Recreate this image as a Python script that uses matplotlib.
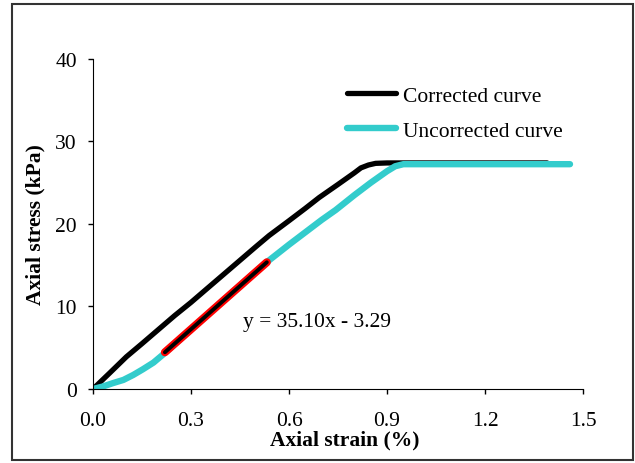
import matplotlib
matplotlib.use("Agg")
import matplotlib.pyplot as plt
from matplotlib.patches import Rectangle

# corrected curve (black)
corr_strain = [0.00, 0.05, 0.102, 0.15, 0.20, 0.25, 0.30, 0.347, 0.40, 0.45,
               0.50, 0.539, 0.60, 0.65, 0.692, 0.75, 0.80, 0.82, 0.843, 0.865,
               0.90, 0.95, 1.05, 1.15, 1.25, 1.39]
corr_stress = [0.0, 1.9, 3.9, 5.5, 7.2, 8.9, 10.5, 12.1, 13.9, 15.6,
               17.3, 18.6, 20.4, 21.9, 23.2, 24.8, 26.2, 26.8, 27.15, 27.35,
               27.4, 27.4, 27.4, 27.4, 27.4, 27.4]

# uncorrected curve (cyan)
unc_strain = [0.00, 0.03, 0.06, 0.093, 0.123, 0.153, 0.185, 0.215, 0.30, 0.40,
              0.50, 0.539, 0.60, 0.65, 0.70, 0.743, 0.80, 0.85, 0.90, 0.925,
              0.95, 0.99, 1.05, 1.15, 1.25, 1.35, 1.46]
unc_stress = [0.0, 0.3, 0.7, 1.1, 1.7, 2.4, 3.2, 4.2, 7.2, 10.8,
              14.3, 15.6, 17.5, 19.0, 20.5, 21.7, 23.5, 25.0, 26.4, 27.0,
              27.25, 27.25, 27.25, 27.25, 27.25, 27.25, 27.25]

# fitted linear segment
fit_strain = [0.22, 0.532]
fit_stress = [4.45, 15.36]
fit_label = "y = 35.10x - 3.29"

x_ticks = [0.0, 0.3, 0.6, 0.9, 1.2, 1.5]
y_ticks = [0, 10, 20, 30, 40]

plt.rcParams["font.family"] = ["Liberation Serif", "DejaVu Serif"]
FS = 15.5

fig = plt.figure(figsize=(6.35, 4.64), dpi=100)
ax = fig.add_axes([0.1465, 0.1595, 0.7717, 0.7112])

ax.plot(corr_strain, corr_stress, color="black", lw=3.8,
        solid_capstyle="round", solid_joinstyle="round", label="Corrected curve")
ax.plot(unc_strain, unc_stress, color="#33CCCC", lw=4.6,
        solid_capstyle="round", solid_joinstyle="round", label="Uncorrected curve")
ax.plot(fit_strain, fit_stress, color="red", lw=5.8, solid_capstyle="round")
ax.plot(fit_strain, fit_stress, color="black", lw=2.8, solid_capstyle="round")

ax.text(0.459, 8.24, fit_label, fontsize=FS, va="center", ha="left")

ax.set_xlim(0, 1.5)
ax.set_ylim(0, 40)
ax.set_xticks(x_ticks)
ax.set_xticklabels([f"{v:.1f}" for v in x_ticks])
ax.set_yticks(y_ticks)
ax.tick_params(direction="out", length=3.6, width=1, labelsize=FS)
ax.tick_params(axis="x", pad=12)
ax.tick_params(axis="y", pad=8)
for s in ["top", "right"]:
    ax.spines[s].set_visible(False)

ax.set_xlabel("Axial strain (%)", fontsize=FS, fontweight="bold")
ax.set_ylabel("Axial stress (kPa)", fontsize=FS, fontweight="bold")
ax.xaxis.set_label_coords(0.514, -0.152)
ax.xaxis.label.set_va("center")
ax.yaxis.set_label_coords(-0.118, 0.5)
ax.yaxis.label.set_va("center")

leg = ax.legend(loc="upper left", bbox_to_anchor=(0.518, 0.919), frameon=False,
                fontsize=FS, handlelength=2.3, handletextpad=0.3,
                labelspacing=0.7, borderpad=0, borderaxespad=0)

fig.patches.append(Rectangle((0.019, 0.007), 0.9775, 0.982, transform=fig.transFigure,
                             fill=False, edgecolor="#333333", lw=1.5))

fig.savefig("out.png", dpi=100)
